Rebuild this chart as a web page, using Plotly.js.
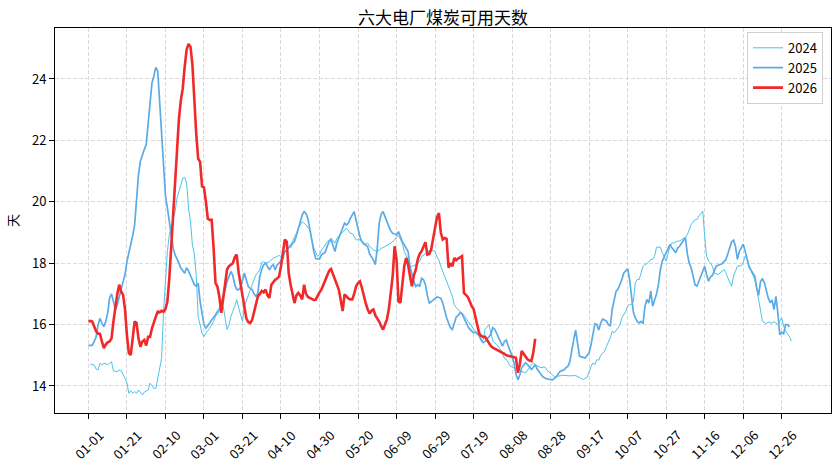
<!DOCTYPE html>
<html>
<head>
<meta charset="utf-8">
<script src="https://cdn.plot.ly/plotly-3.0.1.min.js"></script>
<style>html,body{margin:0;padding:0;background:#fff;}#chart{width:839px;height:469px;}</style>
</head>
<body>
<div id="chart"></div>
<script>
// ---- Data (day index from 01-01) ----
const tickDays = [0,20,40,60,80,100,120,140,160,180,200,220,240,260,280,300,320,340,360];
const tickLabels = ['01-01','01-21','02-10','03-01','03-21','04-10','04-30','05-20','06-09','06-29','07-19','08-08','08-28','09-17','10-07','10-27','11-16','12-06','12-26'];
const seriesNames = ['2024','2025','2026'];

const days2024 = [1,3,4,5,6,7,8,10,11,12,13,15,16,17,19,20,21,22,23,24,25,26,28,29,31,32,33,34,35,36,37,38,39,40,41,42,44,45,46,48,49,50,51,52,53,54,55,56,57,58,59,60,61,63,65,66,67,68,70,71,72,73,74,76,77,78,79,80,81,83,84,85,86,87,89,90,91,92,94,95,96,98,99,100,101,103,104,106,107,108,109,110,111,112,113,115,116,117,119,120,121,122,124,125,126,128,129,131,132,134,135,136,137,139,141,142,143,145,146,148,150,152,154,155,157,159,160,161,163,164,166,167,168,170,171,172,173,175,176,177,178,180,181,182,183,185,187,189,190,191,193,194,196,197,199,200,202,203,204,205,206,208,209,210,212,214,216,217,219,222,224,227,229,231,233,235,237,239,240,242,244,246,248,250,253,256,257,259,260,261,262,263,264,265,266,268,269,271,272,273,275,276,277,279,280,281,282,283,284,285,286,288,289,290,292,293,294,295,297,298,300,301,302,303,304,306,307,308,310,311,312,313,315,316,317,318,319,320,321,322,323,324,325,327,328,330,331,332,334,335,336,337,339,340,341,342,343,344,346,347,348,349,350,352,353,355,356,358,359,360,361,362,364,365];
const vals2024 = [14.72,14.68,14.55,14.52,14.74,14.68,14.74,14.7,14.74,14.79,14.49,14.47,14.52,14.5,14.25,14.1,13.76,13.85,13.76,13.82,13.76,13.87,13.71,13.8,13.87,14.09,14.02,13.92,13.92,14.25,14.6,14.9,16.42,17.4,18.38,18.92,19.41,19.68,20.12,20.55,20.77,20.8,20.61,19.79,19.36,18.6,18.3,17.6,16.26,15.99,15.72,15.61,15.72,15.88,16.1,16.27,16.37,16.43,16.59,16.16,15.84,16.0,16.27,16.59,16.81,16.55,16.32,16.1,16.59,16.97,17.14,17.3,17.46,17.62,17.78,18.02,18.05,18.0,18.05,18.1,18.16,18.22,18.25,18.22,18.3,18.43,18.54,18.7,18.86,18.97,19.14,19.24,19.35,19.3,19.25,19.08,18.76,18.5,18.22,18.27,18.43,18.5,18.7,18.75,18.81,18.65,18.8,18.97,19.0,19.14,19.05,18.97,18.97,18.76,18.76,18.7,18.59,18.65,18.55,18.43,18.38,18.48,18.54,18.58,18.65,18.76,18.86,18.9,18.65,18.38,18.11,17.84,17.9,17.95,18.0,18.05,18.22,18.3,18.38,18.4,18.43,18.38,18.2,18.1,17.89,17.57,17.24,16.92,16.65,16.55,16.43,16.38,16.22,16.11,15.95,15.85,15.73,15.6,15.46,15.5,15.84,16.0,15.75,15.46,15.35,15.19,14.9,14.87,14.65,14.54,14.49,14.43,14.6,14.76,14.65,14.6,14.62,14.45,14.42,14.3,14.32,14.35,14.34,14.33,14.34,14.26,14.21,14.29,14.5,14.64,14.75,14.7,14.86,14.84,15.0,15.13,15.29,15.57,15.78,15.73,15.89,16.0,16.22,16.43,16.6,16.65,16.66,16.76,17.36,17.47,17.47,17.9,17.96,17.98,18.12,18.12,18.23,18.52,18.52,18.34,18.07,18.28,18.55,18.66,18.66,18.72,18.72,18.77,18.83,18.93,19.1,19.26,19.42,19.42,19.53,19.6,19.7,18.88,18.23,18.07,18.01,17.9,17.68,17.63,17.68,17.79,17.7,17.52,17.25,17.58,17.74,17.9,17.92,18.01,18.23,18.15,17.85,17.75,17.47,17.2,16.82,16.38,16.11,16.03,16.08,16.05,16.1,16.0,16.11,16.22,15.95,15.78,15.62,15.46];

// 2025: one value per day starting 01-01
const vals2025 = [15.32,15.32,15.32,15.45,15.6,15.99,16.2,16.05,15.93,16.1,16.37,16.86,17.0,16.75,16.48,16.65,16.86,17.15,17.4,17.62,18.05,18.3,18.55,18.9,19.25,20.01,20.88,21.32,21.55,21.7,21.86,22.6,23.2,23.87,24.1,24.38,24.25,23.27,22.0,21.0,20.2,19.8,19.36,19.0,18.49,18.27,18.1,18.0,17.84,17.75,17.67,17.85,17.75,17.6,17.46,17.3,17.25,17.35,16.75,16.3,16.0,15.88,15.95,16.05,16.15,16.22,16.32,16.43,16.5,16.7,16.9,17.14,17.4,17.57,17.73,17.6,17.3,17.14,17.14,17.2,17.46,17.68,17.45,17.24,17.18,17.14,17.0,16.92,17.03,17.57,17.8,17.95,18.0,17.89,17.78,17.9,17.95,17.78,17.95,18.0,18.1,18.16,18.38,18.42,18.5,18.54,18.65,18.7,18.9,19.1,19.3,19.57,19.68,19.62,19.45,19.08,18.76,18.4,18.15,18.13,18.13,18.27,18.32,18.36,18.55,18.7,18.76,18.55,18.38,18.65,18.81,19.0,19.1,19.3,19.25,19.3,19.46,19.6,19.68,19.4,19.08,18.86,18.7,18.65,18.6,18.54,18.3,18.2,18.1,17.95,18.5,19.3,19.6,19.68,19.51,19.3,19.2,19.05,18.97,18.95,18.92,19.03,18.85,18.7,18.6,18.5,18.38,17.89,17.6,17.4,17.24,17.3,17.24,17.51,17.46,17.3,16.95,16.7,16.75,16.81,16.86,16.9,16.88,16.86,16.7,16.43,16.22,16.05,15.9,15.84,16.05,16.25,16.3,16.38,16.35,16.22,16.05,15.95,15.85,15.78,15.73,15.75,15.7,15.63,15.5,15.41,15.45,15.52,15.6,15.7,15.9,15.85,15.7,15.57,15.4,15.3,15.45,15.5,15.3,15.15,14.98,14.75,14.4,14.2,14.35,14.6,14.7,14.76,14.7,14.6,14.54,14.6,14.7,14.55,14.45,14.38,14.3,14.25,14.23,14.22,14.2,14.2,14.25,14.3,14.4,14.48,14.5,14.53,14.6,14.64,14.8,15.1,15.5,15.82,15.29,14.97,14.95,14.92,14.91,15.0,15.08,15.35,15.75,16.03,16.0,15.82,16.05,16.18,16.15,16.11,16.0,15.95,16.5,16.76,17.09,17.15,17.3,17.47,17.68,17.74,17.82,17.47,16.92,16.4,16.22,16.1,16.05,16.1,16.03,16.6,16.82,16.7,17.09,16.6,16.8,17.0,17.3,17.79,18.07,18.2,18.3,18.45,18.61,18.5,18.4,18.34,18.5,18.55,18.65,18.75,18.83,18.3,18.0,17.85,17.55,17.3,17.25,17.4,17.6,17.75,17.9,17.63,17.41,17.55,17.6,17.75,17.9,17.93,17.96,17.98,18.05,18.12,18.3,18.5,18.7,18.75,18.55,18.12,18.39,18.5,18.62,18.4,18.15,17.9,17.78,17.7,17.58,17.2,16.95,17.4,17.5,17.36,17.09,16.87,16.71,16.8,16.49,16.92,16.38,15.67,15.75,15.7,16.0,16.0,15.92];

// 2026: one value per day starting 01-01
const vals2026 = [16.1,16.12,16.1,15.9,15.78,15.7,15.7,15.45,15.23,15.35,15.42,15.45,15.55,16.1,16.6,17.0,17.3,17.08,16.97,16.5,15.66,15.07,15.01,15.6,16.1,16.05,15.55,15.28,15.45,15.5,15.32,15.6,15.6,15.88,16.1,16.26,16.42,16.4,16.45,16.42,16.5,16.75,17.5,18.6,19.8,20.8,21.8,22.7,23.3,23.7,24.4,24.96,25.14,25.05,24.47,23.27,22.2,21.4,21.3,20.5,20.47,20.0,19.45,19.41,19.41,18.5,17.35,17.24,16.9,16.38,16.9,17.24,17.8,17.9,17.95,18.0,18.2,18.28,17.7,17.3,16.9,16.5,16.2,16.08,16.05,16.15,16.4,16.7,16.92,17.0,17.1,17.05,17.14,16.95,16.87,17.3,17.4,17.46,17.5,17.57,17.9,18.33,18.77,18.7,17.68,17.3,17.03,16.7,16.95,17.03,16.95,16.82,17.3,17.0,16.9,16.87,16.85,16.8,16.81,16.95,17.05,17.14,17.3,17.45,17.6,17.75,17.81,17.63,17.5,17.3,17.14,16.8,16.44,16.98,16.9,16.85,16.82,16.82,17.0,17.25,17.35,17.41,17.2,16.93,16.7,16.5,16.36,16.45,16.49,16.3,16.2,16.1,15.95,15.84,16.0,16.17,16.5,17.03,17.58,18.55,18.12,16.76,16.71,17.3,17.9,18.17,17.95,17.58,17.25,17.6,17.79,18.12,18.3,18.39,18.55,18.68,18.28,18.3,18.45,18.82,19.2,19.5,19.63,19.0,18.77,18.82,18.79,17.85,18.0,17.9,18.17,18.1,18.15,18.2,18.23,17.03,16.95,16.9,16.76,16.6,16.51,16.2,16.0,15.7,15.63,15.6,15.6,15.5,15.41,15.3,15.25,15.22,15.19,15.15,15.12,15.08,15.05,15.0,14.98,14.96,14.95,14.93,14.92,14.43,14.7,15.14,15.05,14.95,14.87,14.83,14.81,15.08,15.54];

const dayIndex = arr => arr.map((_, i) => i);

const FONT = '"Noto Sans CJK SC", "Noto Sans", sans-serif';

const traces = [
  {x: days2024, y: vals2024, name: seriesNames[0], type: 'scatter', mode: 'lines',
   line: {color: '#4cc3ea', width: 1}},
  {x: dayIndex(vals2025), y: vals2025, name: seriesNames[1], type: 'scatter', mode: 'lines',
   line: {color: '#5aabe6', width: 1.7}},
  {x: dayIndex(vals2026), y: vals2026, name: seriesNames[2], type: 'scatter', mode: 'lines',
   line: {color: '#f02a2a', width: 2.6}}
];

const tickAnnotations = tickDays.map((d, i) => ({
  x: d, xref: 'x', y: 0, yref: 'paper', yshift: -10,
  text: tickLabels[i], showarrow: false, textangle: -45,
  xanchor: 'center', yanchor: 'top',
  font: {family: FONT, size: 13, color: '#000'}
}));

const layout = {
  width: 839, height: 469,
  margin: {l: 55, r: 8, t: 28, b: 56},
  paper_bgcolor: '#fff', plot_bgcolor: '#fff',
  font: {family: FONT, size: 13, color: '#000'},
  title: {text: '六大电厂煤炭可用天数', x: 0.5, xref: 'paper', y: 1 - 18/469, yanchor: 'middle',
          font: {family: FONT, size: 17, color: '#000'}},
  xaxis: {
    range: [-17.35, 385.6], tickmode: 'array', tickvals: tickDays, showticklabels: false,
    ticks: 'outside', ticklen: 5, tickcolor: '#000', tickwidth: 1,
    showgrid: true, gridcolor: '#d2d2d2', griddash: '4px,2px', gridwidth: 0.8,
    zeroline: false, showline: true, mirror: true, linecolor: '#000', linewidth: 1
  },
  yaxis: {
    range: [13.12, 25.66], tickmode: 'array', tickvals: [14,16,18,20,22,24],
    ticks: 'outside', ticklen: 5, tickcolor: '#000', tickwidth: 1,
    tickfont: {family: FONT, size: 13, color: '#000'},
    showgrid: true, gridcolor: '#d2d2d2', griddash: '4px,2px', gridwidth: 0.8,
    zeroline: false, showline: true, mirror: true, linecolor: '#000', linewidth: 1,
    title: {text: '天', font: {family: FONT, size: 13, color: '#000'}, standoff: 10}
  },
  legend: {x: 0.9897, xanchor: 'right', y: 0.99, yanchor: 'top',
           bgcolor: 'rgba(255,255,255,0.9)', bordercolor: '#d0d0d0', borderwidth: 1,
           font: {family: FONT, size: 13, color: '#000'}},
  annotations: tickAnnotations,
  showlegend: true
};

Plotly.newPlot('chart', traces, layout, {displayModeBar: false, staticPlot: true});
</script>
</body>
</html>
